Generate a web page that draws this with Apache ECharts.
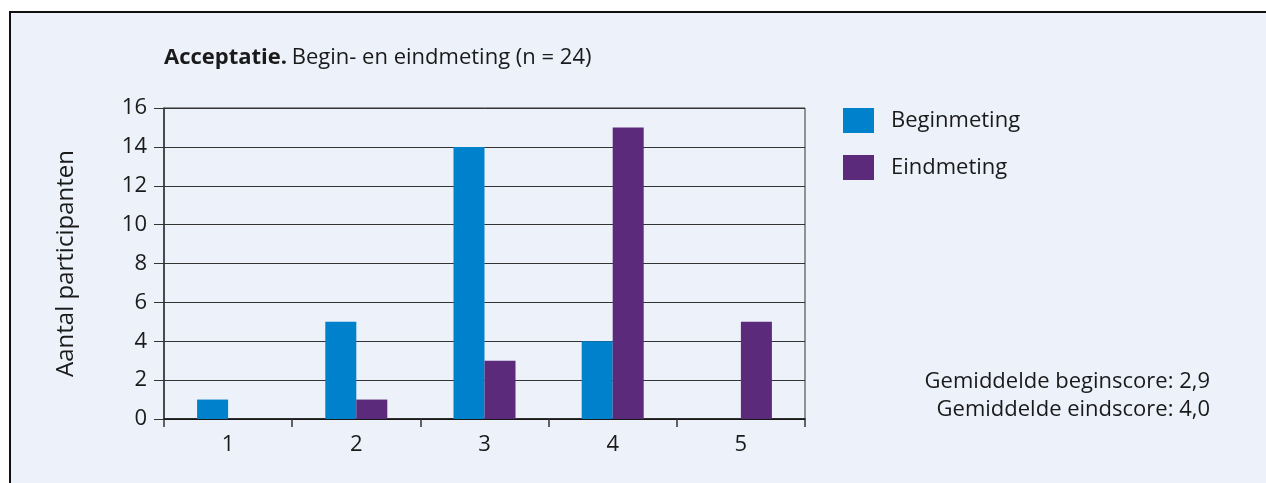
<!DOCTYPE html>
<html>
<head>
<meta charset="utf-8">
<script src="https://cdn.jsdelivr.net/npm/echarts@6/dist/echarts.min.js"></script>
<style>
  html, body { margin: 0; padding: 0; background: #fff; }
  #chart { width: 1266px; height: 483px; }
</style>
</head>
<body>
<div id="chart"></div>
<script>
// data
const categories = ['1', '2', '3', '4', '5']
const beginmeting = [1, 5, 14, 4, 0]
const eindmeting = [0, 1, 3, 15, 5]
const yTicks = { min: 0, max: 16, interval: 2 }
const notes = ['Gemiddelde beginscore: 2,9', 'Gemiddelde eindscore: 4,0']

const fontFamily = '"Open Sans", "Noto Sans", sans-serif'
const textColor = '#1a1a1a'
const lineColor = '#333'

const chart = echarts.init(document.getElementById('chart'))

// de twee regels met gemiddelden, rechts uitgelijnd
const noteTexts = notes.map((t, i) => ({
  type: 'text',
  x: 1210,
  y: 382 + i * 28,
  style: {
    text: t,
    align: 'right',
    verticalAlign: 'middle',
    fontSize: 22,
    fontFamily: fontFamily,
    fill: textColor,
  },
}))

chart.setOption({
  backgroundColor: '#fff',
  textStyle: { fontFamily: fontFamily, color: textColor },
  graphic: [
    {
      type: 'rect',
      z: -10,
      shape: { x: 10, y: 12, width: 1270, height: 480 },
      style: { fill: '#EDF1FA', stroke: '#111', lineWidth: 2 },
    },
    ...noteTexts,
  ],
  title: {
    left: 159,
    top: 42,
    text: '{b|Acceptatie.} {n|Begin- en eindmeting (n = 24)}',
    textStyle: {
      rich: {
        b: { fontSize: 22, fontWeight: 'bold', color: textColor, fontFamily: fontFamily },
        n: { fontSize: 22, fontWeight: 'normal', color: textColor, fontFamily: fontFamily },
      },
    },
  },
  legend: {
    left: 843,
    top: 108,
    orient: 'vertical',
    padding: 0,
    itemWidth: 31,
    itemHeight: 25,
    itemGap: 22,
    icon: 'rect',
    textStyle: { fontSize: 22, color: textColor, padding: [0, 0, 0, 12], fontFamily: fontFamily },
    data: ['Beginmeting', 'Eindmeting'],
  },
  grid: {
    left: 164,
    right: 461,
    top: 108,
    bottom: 64,
    show: true,
    borderColor: lineColor,
    borderWidth: 1,
    backgroundColor: 'transparent',
  },
  xAxis: {
    type: 'category',
    data: categories,
    axisLine: { lineStyle: { color: '#111', width: 1.5 } },
    axisTick: { show: true, length: 8, alignWithLabel: false, lineStyle: { color: lineColor, width: 1.5 } },
    axisLabel: { fontSize: 22, color: textColor, margin: 15 },
  },
  yAxis: {
    type: 'value',
    min: yTicks.min,
    max: yTicks.max,
    interval: yTicks.interval,
    name: 'Aantal participanten',
    nameLocation: 'middle',
    nameGap: 86,
    nameTextStyle: { fontSize: 24, color: textColor },
    axisLine: { show: true, lineStyle: { color: lineColor, width: 1.5 } },
    axisTick: { show: true, length: 10, lineStyle: { color: lineColor } },
    axisLabel: { fontSize: 22, color: textColor, margin: 17 },
    splitLine: { lineStyle: { color: lineColor, width: 1 } },
  },
  series: [
    {
      name: 'Beginmeting',
      type: 'bar',
      data: beginmeting,
      barWidth: 31,
      barGap: '0%',
      itemStyle: { color: '#0081CC' },
    },
    {
      name: 'Eindmeting',
      type: 'bar',
      data: eindmeting,
      barWidth: 31,
      barGap: '0%',
      itemStyle: { color: '#5C2A7A' },
    },
  ],
})
</script>
</body>
</html>
